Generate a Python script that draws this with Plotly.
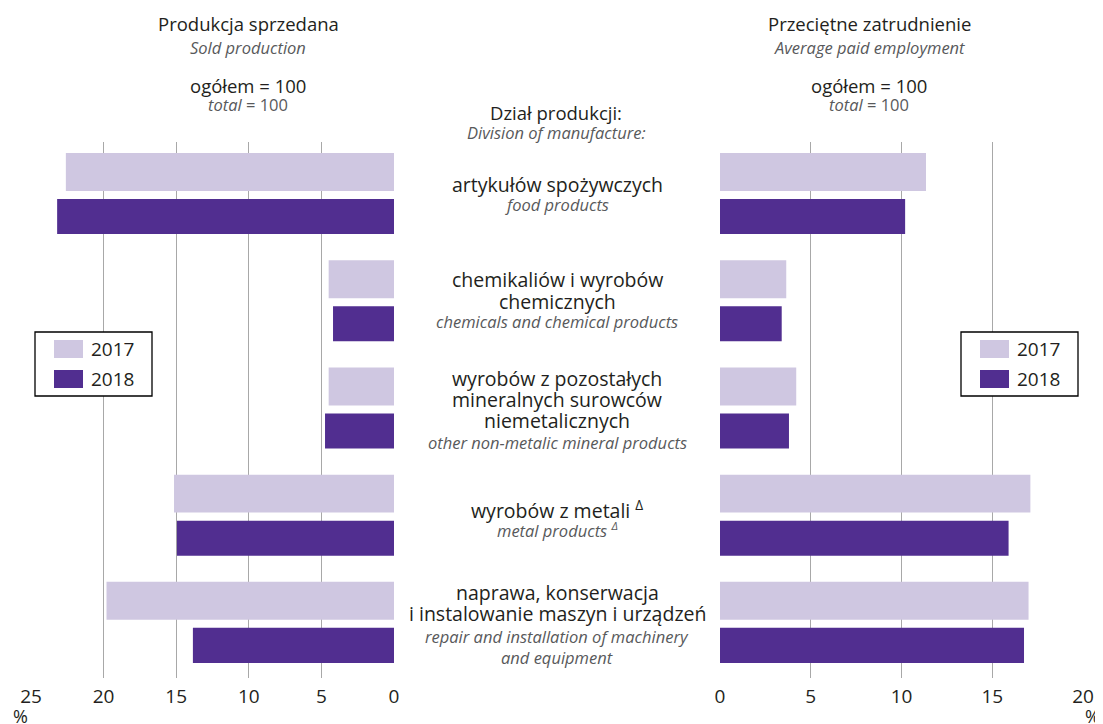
import plotly.graph_objects as go

# ---------------- data ----------------
categories = ["food", "chemicals", "minerals", "metal", "repair"]
years = ["2017", "2018"]
sold_2017 = [22.6, 4.5, 4.5, 15.15, 19.8]
sold_2018 = [23.2, 4.2, 4.75, 14.95, 13.85]
emp_2017 = [11.35, 3.65, 4.2, 17.1, 17.0]
emp_2018 = [10.2, 3.4, 3.8, 15.9, 16.75]
left_ticks = [0, 5, 10, 15, 20, 25]
right_ticks = [0, 5, 10, 15, 20]

pl_labels = [
    ["artykułów spożywczych"],
    ["chemikaliów i wyrobów", "chemicznych"],
    ["wyrobów z pozostałych", "mineralnych surowców", "niemetalicznych"],
    ["wyrobów z metali <sup>Δ</sup>"],
    ["naprawa, konserwacja", "i instalowanie maszyn i urządzeń"],
]
en_labels = [
    ["food products"],
    ["chemicals and chemical products"],
    ["other non-metalic mineral products"],
    ["metal products <sup>Δ</sup>"],
    ["repair and installation of machinery", "and equipment"],
]

# ---------------- styling ----------------
W, H = 1103, 724
OFF = 8  # page body margin
C17 = "#cfc7e1"
C18 = "#512e90"
TXT = "#231f20"
GRAY = "#58595b"
GRID = "#a8a8a8"
FONT = "Open Sans"
MAIN = 19.5
HEAD = 18.5
SUB = 16.5


def px(x):
    return (x - OFF) / W


def py(y):
    return 1 - (y - OFF) / H


fig = go.Figure()
bar_specs = [
    (sold_2017, C17, -0.397, 0.354, "x", "y"),
    (sold_2018, C18, 0.032, 0.327, "x", "y"),
    (emp_2017, C17, -0.397, 0.354, "x2", "y2"),
    (emp_2018, C18, 0.032, 0.327, "x2", "y2"),
]
for vals, col, off, wid, xa, ya in bar_specs:
    fig.add_trace(go.Bar(
        x=vals, y=categories, orientation="h", xaxis=xa, yaxis=ya,
        marker=dict(color=col, line=dict(width=0)),
        offset=off, width=wid, showlegend=False, hoverinfo="x",
    ))

axis_common = dict(
    showgrid=True, gridcolor=GRID, gridwidth=1, zeroline=False, showline=False,
    ticks="outside", ticklen=1, tickcolor="rgba(0,0,0,0)", automargin=False,
    tickfont=dict(family=FONT, size=19, color=TXT), fixedrange=True,
)
yaxis_common = dict(
    type="category", categoryorder="array", categoryarray=categories,
    range=[4.5, -0.5], showticklabels=False, showgrid=False, zeroline=False,
    domain=[py(678), py(142)], fixedrange=True, automargin=False,
)

annotations = []


def ann(text, x, y, size=MAIN, color=TXT, italic=False, xanchor="center"):
    if italic:
        text = "<i>" + text + "</i>"
    annotations.append(dict(
        text=text, x=px(x), y=py(y), xref="paper", yref="paper",
        xanchor=xanchor, yanchor="middle", showarrow=False,
        font=dict(family=FONT, size=size, color=color),
    ))


# panel headings
for cx, pl, en in [(248, "Produkcja sprzedana", "Sold production"),
                   (869, "Przeciętne zatrudnienie", "Average paid employment")]:
    ann(pl, cx, 24, HEAD)
    ann(en, cx, 48, SUB, GRAY, True)
    ann("ogółem = 100", cx, 85, HEAD)
    annotations.append(dict(
        text="<i>total</i> = 100", x=px(cx), y=py(105), xref="paper", yref="paper",
        xanchor="center", yanchor="middle", showarrow=False,
        font=dict(family=FONT, size=SUB, color=GRAY),
    ))

ann("Dział produkcji:", 556, 113, HEAD)
ann("Division of manufacture:", 556, 133, SUB, GRAY, True)

# category labels
label_y = [
    ([184], [205]),
    ([280, 301], [322]),
    ([378, 399, 420], [442]),
    ([509], [530]),
    ([592, 613], [636, 657]),
]
for (pls, ens), (ys_pl, ys_en) in zip(zip(pl_labels, en_labels), label_y):
    for t, y in zip(pls, ys_pl):
        ann(t, 557, y)
    for t, y in zip(ens, ys_en):
        ann(t, 557, y, SUB, GRAY, True)

# percent units
ann("%", 20, 716, 18)
ann("%", 1092, 716, 18)

# manual legends
shapes = []
for bx0, bx1, sx0 in [(35, 152, 54), (961, 1078, 980)]:
    shapes.append(dict(type="rect", xref="paper", yref="paper",
                       x0=px(bx0), x1=px(bx1), y0=py(396), y1=py(332),
                       line=dict(color="#000000", width=1.3), fillcolor="white"))
    for yr, col, y0, y1 in [(years[0], C17, 340, 358), (years[1], C18, 370, 388)]:
        shapes.append(dict(type="rect", xref="paper", yref="paper",
                           x0=px(sx0), x1=px(sx0 + 29), y0=py(y1), y1=py(y0),
                           line=dict(width=0), fillcolor=col))
        ann(yr, sx0 + 35, (y0 + y1) / 2, 19, TXT, False, "left")

fig.update_layout(
    width=W, height=H,
    margin=dict(l=0, r=0, t=0, b=0, autoexpand=False),
    paper_bgcolor="white", plot_bgcolor="white",
    barmode="overlay",
    showlegend=False,
    xaxis=dict(axis_common, domain=[px(31), px(394)], range=[25, 0],
               tickvals=left_ticks, anchor="y"),
    yaxis=dict(yaxis_common, anchor="x"),
    xaxis2=dict(axis_common, domain=[px(720), px(1083)], range=[0, 20],
                tickvals=right_ticks, anchor="y2"),
    yaxis2=dict(yaxis_common, anchor="x2"),
    annotations=annotations,
    shapes=shapes,
    font=dict(family=FONT, color=TXT),
)

fig.write_html("out.html")
